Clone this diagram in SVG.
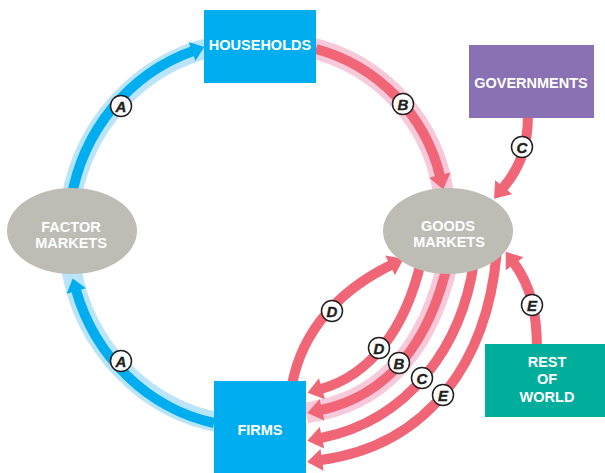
<svg xmlns="http://www.w3.org/2000/svg" width="605" height="473" viewBox="0 0 605 473">
<style>
.band-b{fill:none;stroke:#B9E4F9;stroke-width:20}
.line-b{fill:none;stroke:#00AEEF;stroke-width:10;marker-end:url(#ahb)}
.band-r{fill:none;stroke:#F8C8DB;stroke-width:21}
.line-r{fill:none;stroke:#F06676;stroke-width:10;marker-end:url(#ahr)}
.box text,.ell text{font-family:"Liberation Sans",Arial,sans-serif;font-weight:bold;font-size:14.5px;fill:#fff;text-anchor:middle}
.ell ellipse{fill:#BDBDB6}
.lbl circle{fill:#fff;stroke:#231F20;stroke-width:1.5}
.lbl text{font-family:"Liberation Sans",Arial,sans-serif;font-weight:bold;font-style:italic;font-size:15px;fill:#231F20;stroke:#231F20;stroke-width:0.4;text-anchor:middle}
</style>
<defs>
<marker id="ahb" markerUnits="userSpaceOnUse" markerWidth="30" markerHeight="30" refX="0" refY="0" orient="auto" style="overflow:visible"><path d="M-1,-10 L12,0 L-1,10 Z" fill="#00AEEF"/></marker>
<marker id="ahr" markerUnits="userSpaceOnUse" markerWidth="30" markerHeight="30" refX="0" refY="0" orient="auto" style="overflow:visible"><path d="M-1,-11 L14,0 L-1,11 Z" fill="#F06676"/></marker>
</defs>
<g id="connectors">
<path class="band-b" d="M 71 200 A 184 192 0 0 1 212 47"/>
<path class="band-b" d="M 222 423 A 184 192 0 0 1 71 268"/>
<path class="band-r" d="M 308 47 A 175 175 0 0 1 444 198"/>
<path class="band-r" d="M 448 262 C 430 340, 390 395, 321 410 L 306 413"/>
<path class="line-b" d="M 71 200 A 184 192 0 0 1 193 51"/>
<path class="line-b" d="M 214 423 A 184 192 0 0 1 76 290"/>
<path class="line-r" d="M 316 49 A 175 175 0 0 1 440 176"/>
<path class="line-r" d="M 528 115 C 528 150, 518 170, 503 188"/>
<path class="line-r" d="M 537 350 C 537 310, 530 285, 514 263"/>
<path class="line-r" d="M 292 385 C 302 330, 340 290, 391 265"/>
<path class="line-r" d="M 421 262 C 405 330, 370 375, 321 389"/>
<path class="line-r" d="M 448 262 C 430 340, 390 395, 321 410"/>
<path class="line-r" d="M 474 262 C 462 345, 410 420, 321 438"/>
<path class="line-r" d="M 497 250 C 488 360, 430 445, 321 460"/>
</g>
<g id="households" class="box"><rect x="204" y="10" width="112" height="73" fill="#00AEEF"/><text x="260" y="50">HOUSEHOLDS</text></g>
<g id="governments" class="box"><rect x="469" y="45" width="125" height="73" fill="#8A71B4"/><text x="531" y="88">GOVERNMENTS</text></g>
<g id="factor-markets" class="ell"><ellipse cx="72" cy="231" rx="65" ry="43"/><text x="71" y="232">FACTOR</text><text x="71" y="248">MARKETS</text></g>
<g id="goods-markets" class="ell"><ellipse cx="448" cy="231" rx="65" ry="43"/><text x="448" y="231">GOODS</text><text x="449" y="247">MARKETS</text></g>
<g id="firms" class="box"><rect x="214" y="381" width="92" height="92" fill="#00AEEF"/><text x="260" y="435">FIRMS</text></g>
<g id="rest-of-world" class="box"><rect x="485" y="344" width="120" height="73" fill="#00AE9B"/><text x="547" y="367">REST</text><text x="547" y="384">OF</text><text x="547" y="402">WORLD</text></g>
<g id="labels">
<g class="lbl" transform="translate(121,106)"><circle r="10.5"/><text y="5.5">A</text></g>
<g class="lbl" transform="translate(121,361)"><circle r="10.5"/><text y="5.5">A</text></g>
<g class="lbl" transform="translate(403,104)"><circle r="10.5"/><text y="5.5">B</text></g>
<g class="lbl" transform="translate(522,147)"><circle r="10.5"/><text y="5.5">C</text></g>
<g class="lbl" transform="translate(332,311)"><circle r="10.5"/><text y="5.5">D</text></g>
<g class="lbl" transform="translate(532,305)"><circle r="10.5"/><text y="5.5">E</text></g>
<g class="lbl" transform="translate(379,348)"><circle r="10.5"/><text y="5.5">D</text></g>
<g class="lbl" transform="translate(399,363)"><circle r="10.5"/><text y="5.5">B</text></g>
<g class="lbl" transform="translate(422,378)"><circle r="10.5"/><text y="5.5">C</text></g>
<g class="lbl" transform="translate(443,395)"><circle r="10.5"/><text y="5.5">E</text></g>
</g>
</svg>
